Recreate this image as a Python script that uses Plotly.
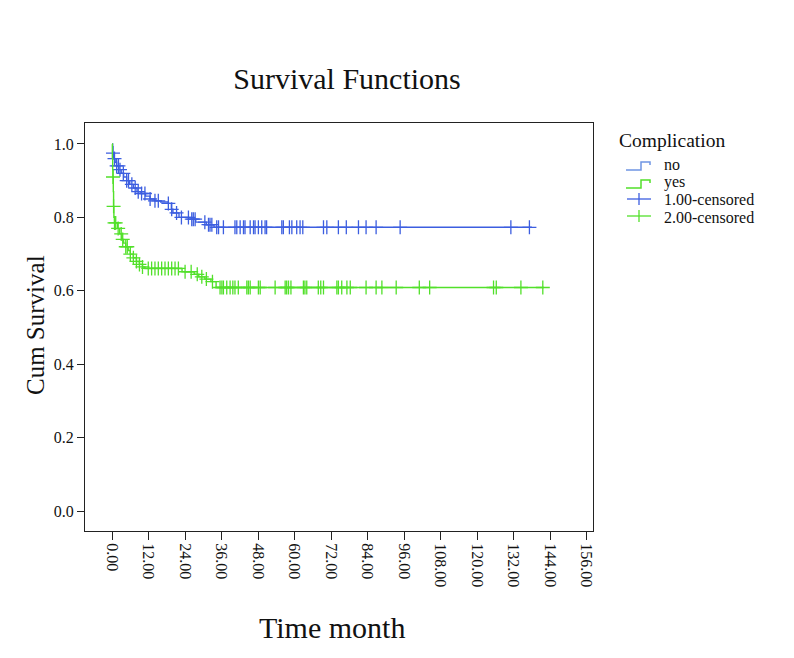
import numpy as np
import plotly.graph_objects as go

# ---------------- data ----------------
no_event_t = [0, 0.2, 0.5, 1.0, 1.5, 2.2, 3.0, 3.8, 4.8, 5.8, 7.0, 8.2, 9.5, 11.0,
              12.5, 14.0, 16.0, 18.5, 19.5, 20.0, 22.0, 26.0, 27.5, 31.0, 33.5]
no_event_s = [1.0, 0.975, 0.96, 0.95, 0.94, 0.93, 0.92, 0.91, 0.90, 0.89, 0.88, 0.87,
              0.865, 0.858, 0.85, 0.845, 0.842, 0.838, 0.822, 0.812, 0.80, 0.795,
              0.787, 0.78, 0.773]
no_end = 138.0
no_cens_t = [0.3, 0.8, 1.5, 2.1, 2.6, 3.7, 4.8, 5.4, 6.5, 7.6, 8.6, 9.7, 10.8, 12.5,
             14.1, 15.2, 18.5, 19.6, 21.2, 22.8, 25.1, 26.2, 26.7, 27.3, 30.5, 31.7,
             32.2, 32.8, 34.4, 35.0, 36.6, 40.4, 41.0, 42.1, 43.2, 43.7, 45.4, 46.5,
             47.0, 48.1, 49.2, 50.3, 50.8, 55.8, 56.3, 58.3, 59.1, 60.7, 61.8, 62.7,
             69.5, 70.6, 74.4, 77.0, 81.0, 83.5, 86.8, 94.7, 131.1, 137.2]

yes_event_t = [0, 0.1, 0.2, 0.3, 0.4, 0.5, 0.6, 0.8, 1.8, 2.5, 3.2, 3.8, 4.5, 5.3,
               6.0, 7.0, 8.0, 9.0, 10.0, 10.8, 23.0, 27.0, 28.5, 30.5, 32.5, 34.2]
yes_event_s = [1.0, 0.96, 0.93, 0.91, 0.87, 0.83, 0.80, 0.785, 0.77, 0.755, 0.74,
               0.73, 0.72, 0.71, 0.70, 0.69, 0.68, 0.672, 0.665, 0.661, 0.652,
               0.645, 0.638, 0.632, 0.625, 0.609]
yes_end = 142.0
yes_cens_t = [0.3, 0.5, 0.8, 1.2, 2.0, 3.0, 3.5, 4.5, 5.0, 6.0, 7.0, 8.0, 9.0, 10.0,
              11.9, 13.0, 14.1, 15.2, 16.3, 17.4, 18.5, 19.6, 20.7, 21.8, 24.0,
              26.0, 28.0, 29.5, 31.0, 33.0, 35.5, 36.1, 36.6, 37.7, 38.8, 39.7,
              40.4, 41.5, 44.3, 44.8, 45.4, 48.1, 48.7, 53.6, 56.9, 57.4, 58.0,
              58.8, 62.9, 63.4, 64.0, 67.8, 68.6, 69.5, 73.9, 74.4, 75.5, 77.2,
              78.3, 83.5, 86.8, 88.7, 93.4, 101.0, 104.4, 125.4, 126.3, 134.4, 141.6]

x_ticks = [0, 12, 24, 36, 48, 60, 72, 84, 96, 108, 120, 132, 144, 156]
x_ticktext = ["0.00", "12.00", "24.00", "36.00", "48.00", "60.00", "72.00", "84.00",
              "96.00", "108.00", "120.00", "132.00", "144.00", "156.00"]
y_ticks = [0.0, 0.2, 0.4, 0.6, 0.8, 1.0]
y_ticktext = ["0.0", "0.2", "0.4", "0.6", "0.8", "1.0"]

BLUE = "#3c5ee0"
GREEN = "#52e02a"
LIGHTBLUE = "#6f95e3"
FONT = "Liberation Serif"


def step_xy(t, s, end):
    return list(t) + [end], list(s) + [s[-1]]


def surv_at(t, s, c):
    t = np.asarray(t)
    s = np.asarray(s)
    idx = np.searchsorted(t, np.asarray(c), side="right") - 1
    return s[idx]


fig = go.Figure()
for t, s, end, cens, col in [(no_event_t, no_event_s, no_end, no_cens_t, BLUE),
                             (yes_event_t, yes_event_s, yes_end, yes_cens_t, GREEN)]:
    x, y = step_xy(t, s, end)
    fig.add_trace(go.Scatter(x=x, y=y, mode="lines", line=dict(color=col, width=1.4, shape="hv"),
                             showlegend=False, hoverinfo="skip"))
    fig.add_trace(go.Scatter(x=cens, y=surv_at(t, s, cens), mode="markers",
                             marker=dict(symbol="cross-thin", size=10,
                                         line=dict(color=col, width=1.3)),
                             showlegend=False, hoverinfo="skip"))

# page offset from the html body margin
OFF = 8
# plot area in page pixels: left 85, right 593, top 123, bottom 531
PL, PR, PT, PB = 85, 593, 123, 531
W, H = 786, 650
L, R, T, B = PL - OFF, PR - OFF, PT - OFF, PB - OFF


def px(x):
    return (x - PL) / (PR - PL)


def py(y):
    return (PB - y) / (PB - PT)


LEG = 16
annots = [
    dict(text="Complication", x=px(617), y=py(140), xanchor="left", yanchor="middle",
         font=dict(size=19.5, color="#111", family=FONT)),
    dict(text="no", x=px(662), y=py(164), xanchor="left", yanchor="middle",
         font=dict(size=LEG, color="#111", family=FONT)),
    dict(text="yes", x=px(662), y=py(182), xanchor="left", yanchor="middle",
         font=dict(size=LEG, color="#111", family=FONT)),
    dict(text="1.00-censored", x=px(662), y=py(199.5), xanchor="left", yanchor="middle",
         font=dict(size=LEG, color="#111", family=FONT)),
    dict(text="2.00-censored", x=px(662), y=py(217), xanchor="left", yanchor="middle",
         font=dict(size=LEG, color="#111", family=FONT)),
    dict(text="Time month", x=px(332), y=py(627), xanchor="center", yanchor="middle",
         font=dict(size=30, color="#111", family=FONT)),
    dict(text="Cum Survival", x=px(35), y=py(325), xanchor="center", yanchor="middle",
         textangle=-90, font=dict(size=25, color="#111", family=FONT)),
]
for a in annots:
    a.update(xref="paper", yref="paper", showarrow=False)


def step_icon(y_low, y_high, col):
    path = (f"M {px(626)},{py(y_low)} L {px(641)},{py(y_low)} L {px(641)},{py(y_high)} "
            f"L {px(650)},{py(y_high)} L {px(650)},{py(y_high + 3)}")
    return dict(type="path", path=path, xref="paper", yref="paper",
                line=dict(color=col, width=1.5))


def plus_icon(yc, col):
    return [dict(type="line", xref="paper", yref="paper", x0=px(627), x1=px(651),
                 y0=py(yc), y1=py(yc), line=dict(color=col, width=1.3)),
            dict(type="line", xref="paper", yref="paper", x0=px(639), x1=px(639),
                 y0=py(yc - 6), y1=py(yc + 6), line=dict(color=col, width=1.3))]


shapes = [step_icon(170, 162, LIGHTBLUE), step_icon(188, 180, GREEN)]
shapes += plus_icon(199, BLUE) + plus_icon(216, GREEN)

fig.update_layout(
    width=W, height=H,
    margin=dict(l=L, r=W - R, t=T, b=H - B, autoexpand=False),
    paper_bgcolor="white", plot_bgcolor="white",
    font=dict(family=FONT, color="#111"),
    title=dict(text="Survival Functions", x=px(347), xref="paper", xanchor="center",
               y=1 - (78 - OFF) / H, yref="container", yanchor="middle",
               font=dict(size=30, family=FONT, color="#111")),
    annotations=annots,
    shapes=shapes,
    showlegend=False,
)
fig.update_xaxes(range=[-8.9, 158.1], tickvals=x_ticks, ticktext=x_ticktext, tickangle=90,
                 ticks="outside", ticklen=8, tickwidth=1.2, tickcolor="#222",
                 showline=True, mirror=True, linecolor="#222", linewidth=1.2,
                 showgrid=False, zeroline=False, tickfont=dict(size=16, family=FONT, color="#111"))
fig.update_yaxes(range=[-0.054, 1.057], tickvals=y_ticks, ticktext=y_ticktext,
                 ticks="outside", ticklen=7, tickwidth=1.2, tickcolor="#222",
                 showline=True, mirror=True, linecolor="#222", linewidth=1.2,
                 showgrid=False, zeroline=False, tickfont=dict(size=16, family=FONT, color="#111"))

fig.write_html("out.html")
